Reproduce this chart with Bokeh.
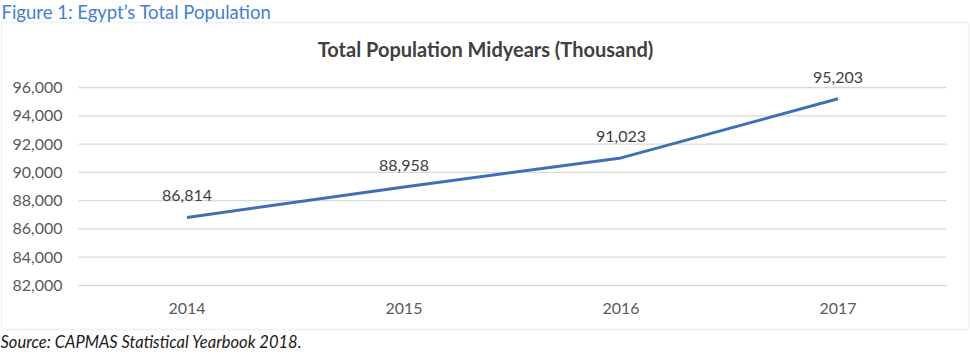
from bokeh.plotting import figure
from bokeh.models import Label, BoxAnnotation, ColumnDataSource, Range1d, LabelSet
from bokeh.core.properties import value
from bokeh.embed import file_html
from bokeh.resources import INLINE

years = ["2014", "2015", "2016", "2017"]
population = [86814, 88958, 91023, 95203]
y_ticks = [82000, 84000, 86000, 88000, 90000, 92000, 94000, 96000]
fig_title = "Figure 1: Egypt\u2019s Total Population"
chart_title = "Total Population Midyears (Thousand)"
source_note = "Source: CAPMAS Statistical Yearbook 2018."

W, H = 970, 354
# plot-area geometry in canvas pixels
PL, PR, PT, PB = 78, 946, 87, 285
n = len(years)
cat_w = (PR - PL) / n
y_lo, y_hi = y_ticks[0], y_ticks[-1]
ppu = (PB - PT) / (y_hi - y_lo)  # pixels per unit

x_start = -0.5 - PL / cat_w
x_end = -0.5 + (W - PL) / cat_w
y_top = y_hi + PT / ppu
y_bot = y_hi - (H - PT) / ppu

p = figure(x_range=Range1d(x_start, x_end), y_range=Range1d(y_bot, y_top),
           width=W, height=H, output_backend="svg", toolbar_location=None,
           min_border=0, x_axis_type=None, y_axis_type=None)
p.outline_line_color = None
p.background_fill_color = "white"
p.border_fill_color = "white"
p.xgrid.visible = False
p.ygrid.visible = False

xi = list(range(n))

# gridlines
p.segment(x0=[-0.5] * len(y_ticks), x1=[n - 0.5] * len(y_ticks), y0=y_ticks, y1=y_ticks,
          line_color="#d9d9d9", line_width=1.3)

# y tick labels
ysrc = ColumnDataSource(dict(x=[-0.5] * len(y_ticks), y=y_ticks,
                             t=[f"{v:,}" for v in y_ticks]))
p.add_layout(LabelSet(x="x", y="y", text="t", source=ysrc, x_offset=-16,
                      text_align="right", text_baseline="middle",
                      text_font=value("Lato"), text_font_size="16px", text_color="#595959"))
# x tick labels
xsrc = ColumnDataSource(dict(x=xi, y=[y_lo] * n, t=years))
p.add_layout(LabelSet(x="x", y="y", text="t", source=xsrc, y_offset=-23,
                      text_align="center", text_baseline="middle",
                      text_font=value("Lato"), text_font_size="16px", text_color="#595959"))

# series
src = ColumnDataSource(dict(x=xi, y=population, t=[f"{v:,}" for v in population]))
p.line("x", "y", source=src, line_color="#3D70B8", line_width=3)
p.add_layout(LabelSet(x="x", y="y", text="t", source=src, y_offset=16,
                      text_align="center", text_baseline="bottom",
                      text_font=value("Lato"), text_font_size="16px", text_color="#404040"))

# chart border
p.add_layout(BoxAnnotation(left=1, right=968, top=H - 22, bottom=H - 329,
                           left_units="screen", right_units="screen",
                           top_units="screen", bottom_units="screen",
                           fill_alpha=0, line_color="#d0d0d0", line_width=1.5))

p.add_layout(Label(x=1, y=H - 11, x_units="screen", y_units="screen", text=fig_title,
                   text_font="Lato", text_font_size="18.5px", text_color="#3F80D8",
                   text_baseline="middle"))
p.add_layout(Label(x=485, y=H - 48, x_units="screen", y_units="screen", text=chart_title,
                   text_font="Lato", text_font_size="20px", text_font_style="bold",
                   text_color="#404040", text_align="center", text_baseline="middle"))
p.add_layout(Label(x=0, y=H - 341, x_units="screen", y_units="screen", text=source_note,
                   text_font="Lato", text_font_size="16.5px", text_font_style="italic",
                   text_color="#1a1a1a", text_baseline="middle"))

open("out.html", "w").write(file_html(p, INLINE))
